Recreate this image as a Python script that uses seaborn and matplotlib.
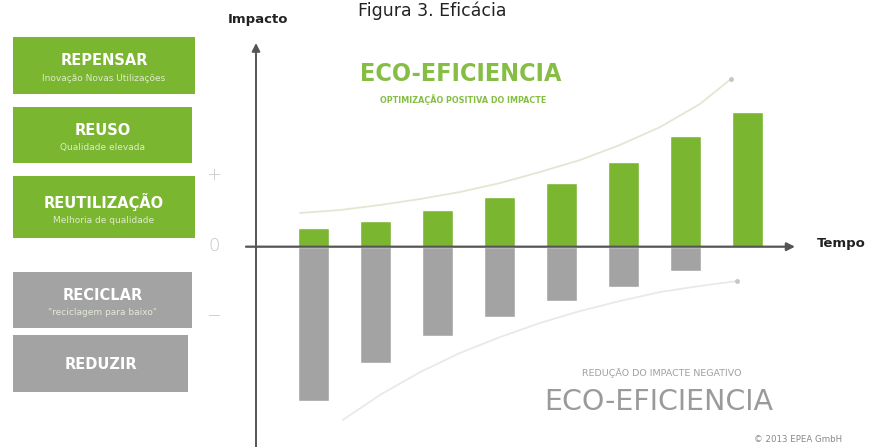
import matplotlib
matplotlib.use("Agg")
import matplotlib.pyplot as plt
from matplotlib.patches import Rectangle
import seaborn as sns
import pandas as pd

# ---------------- data ----------------
stages = ["1", "2", "3", "4", "5", "6", "7", "8"]
positive_impact = [1.9, 2.6, 3.7, 5.0, 6.4, 8.5, 11.1, 13.5]
negative_impact = [-15.4, -11.6, -8.9, -7.0, -5.4, -4.0, -2.4, 0.0]

upper_trend_x = [-0.21, 0.44, 1.08, 1.73, 2.37, 3.02, 3.66, 4.31, 4.95, 5.60, 6.24, 6.74]
upper_trend_y = [3.37, 3.67, 4.17, 4.77, 5.47, 6.37, 7.47, 8.67, 10.17, 11.97, 14.27, 16.77]
lower_trend_x = [0.48, 1.08, 1.73, 2.37, 3.02, 3.66, 4.31, 4.95, 5.60, 6.24, 6.84]
lower_trend_y = [-17.33, -14.83, -12.53, -10.63, -9.03, -7.63, -6.43, -5.43, -4.53, -3.93, -3.43]

box_titles = ["REPENSAR", "REUSO", "REUTILIZAÇÃO", "RECICLAR", "REDUZIR"]
box_subtitles = ["Inovação Novas Utilizações", "Qualidade elevada",
                 "Melhoria de qualidade", "\"reciclagem para baixo\"", ""]
level_labels = ["+", "0", "−"]

GREEN = "#7bb631"
GRAY = "#a3a3a3"

sns.set_theme(style="white")
plt.rcParams['font.family'] = ['DejaVu Sans']

fig = plt.figure(figsize=(8.69, 4.47), dpi=100)

# background / annotation layer in pixel coordinates
bg = fig.add_axes([0, 0, 1, 1])
bg.set_xlim(0, 869)
bg.set_ylim(447, 0)
bg.axis("off")

# left boxes
boxes = [(13, 37, 182, 57, GREEN), (13, 107, 179, 56, GREEN),
         (13, 176, 182, 62, GREEN), (13, 272, 179, 56, GRAY),
         (13, 335, 175, 57, GRAY)]
for (x, y, w, h, c), t, s in zip(boxes, box_titles, box_subtitles):
    bg.add_patch(Rectangle((x, y), w, h, color=c, lw=0))
    cx = x + w / 2
    if s:
        bg.text(cx, y + h * 0.42, t, color="white", fontsize=10.5,
                fontweight="bold", ha="center", va="center")
        bg.text(cx, y + h * 0.72, s, color="#eef5e4", fontsize=6.5,
                ha="center", va="center", alpha=0.85)
    else:
        bg.text(cx, y + h * 0.52, t, color="white", fontsize=10.5,
                fontweight="bold", ha="center", va="center")

for lab, yy in zip(level_labels, [175, 246, 315]):
    bg.text(214, yy, lab, color="#c4c4c4", fontsize=13, ha="center",
            va="center", fontweight="light")

bg.text(432, 1, "Figura 3. Eficácia", fontsize=12.5, color="#222222",
        ha="center", va="top")
bg.text(258, 19, "Impacto", fontsize=9.5, fontweight="bold",
        color="#222222", ha="center", va="center")
bg.text(841, 244, "Tempo", fontsize=9.5, fontweight="bold",
        color="#222222", ha="center", va="center")

bg.text(461, 74, "ECO-EFICIENCIA", fontsize=18, fontweight="bold",
        fontstretch="condensed", color="#86bd45", ha="center", va="center")
bg.text(463, 100, "OPTIMIZAÇÃO POSITIVA DO IMPACTE", fontsize=5.8,
        fontweight="bold", color="#86bd45", ha="center", va="center")
bg.text(662, 373, "REDUÇÃO DO IMPACTE NEGATIVO", fontsize=6.8,
        color="#a0a0a0", ha="center", va="center")
bg.text(659, 402, "ECO-EFICIENCIA", fontsize=20.5,
        color="#9a9a9a", ha="center", va="center")
bg.text(798, 440, "© 2013 EPEA GmbH", fontsize=6.2,
        color="#888888", ha="center", va="center")

# ---------------- chart layer ----------------
ax = fig.add_axes([240 / 869, 0, 560 / 869, 407 / 447])
ax.patch.set_alpha(0)

df = pd.DataFrame({"stage": stages, "pos": positive_impact,
                   "neg": negative_impact})
sns.barplot(data=df, x="stage", y="pos", color=GREEN, saturation=1,
            width=0.5, ax=ax, zorder=2)
sns.barplot(data=df, x="stage", y="neg", color=GRAY, saturation=1,
            width=0.5, ax=ax, zorder=2)

sns.lineplot(x=upper_trend_x, y=upper_trend_y, color="#e0e8d3", lw=1.3,
             ax=ax, sort=False, zorder=1)
sns.lineplot(x=lower_trend_x, y=lower_trend_y, color="#e9e9e9", lw=1.3,
             ax=ax, sort=False, zorder=1)
ax.plot(upper_trend_x[-1], upper_trend_y[-1], "o", ms=2.5, color="#c6c6c6")
ax.plot(lower_trend_x[-1], lower_trend_y[-1], "o", ms=2.5, color="#c6c6c6")

ax.set_xlim((240 - 313) / 62, (800 - 313) / 62)
ax.set_ylim((246.7 - 447) / 10, (246.7 - 40) / 10)

# axes with arrows
x_axis_pos = (256 - 313) / 62
ax.annotate("", xy=((795 - 313) / 62, 0), xytext=((246 - 313) / 62, 0),
            arrowprops=dict(arrowstyle="-|>", color="#555555", lw=1.6,
                            mutation_scale=12, shrinkA=0, shrinkB=0),
            zorder=3)
ax.annotate("", xy=(x_axis_pos, (246.7 - 43) / 10),
            xytext=(x_axis_pos, (246.7 - 447) / 10),
            arrowprops=dict(arrowstyle="-|>", color="#555555", lw=1.4,
                            mutation_scale=12, shrinkA=0, shrinkB=0),
            zorder=3)

ax.set_xlabel("")
ax.set_ylabel("")
ax.set_xticks([])
ax.set_yticks([])
for s in ax.spines.values():
    s.set_visible(False)

fig.savefig("out.png", dpi=100)
